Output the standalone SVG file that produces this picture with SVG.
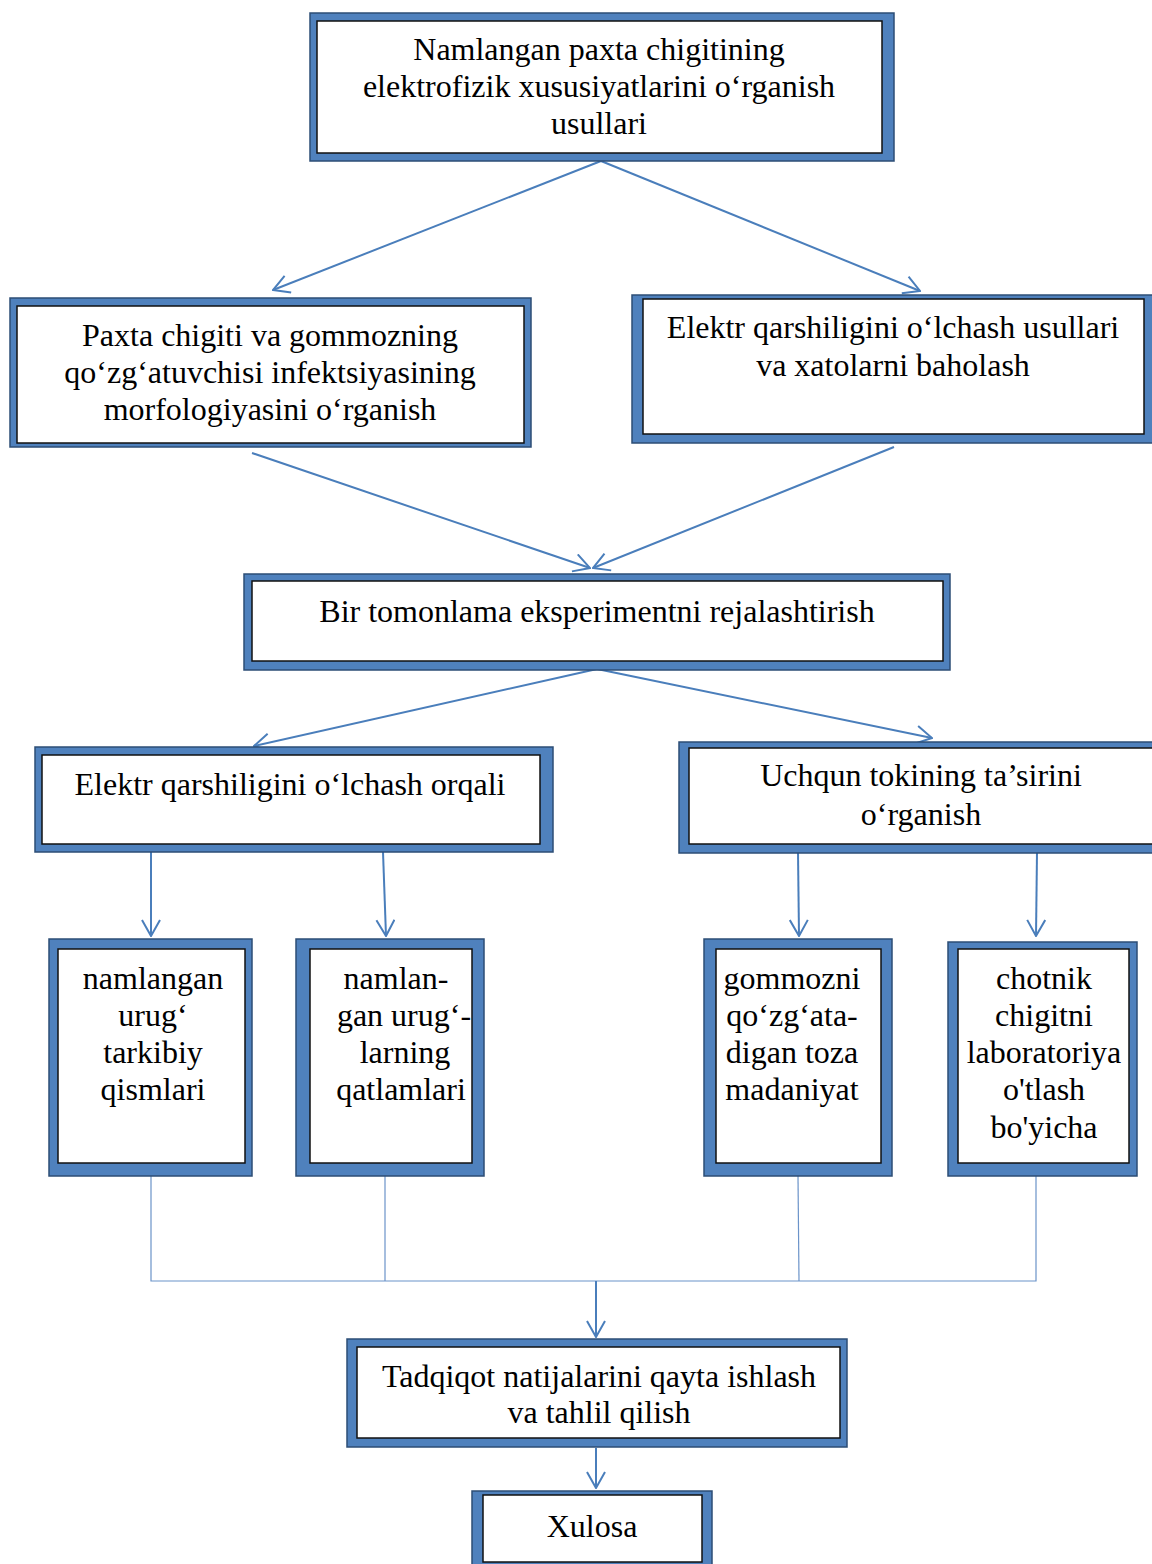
<svg xmlns="http://www.w3.org/2000/svg" width="1152" height="1564" viewBox="0 0 1152 1564">
<defs>
<style>
.o{fill:#4f81bd;stroke:#2c4d75;stroke-width:1.5}
.i{fill:#ffffff;stroke:#111111;stroke-width:1.5}
.t{font-family:"Liberation Serif","Times New Roman",serif;font-size:32px;fill:#000;text-anchor:middle}
.c{fill:none;stroke:#4a7ebb;stroke-width:2}
.th{fill:none;stroke:#6b93c9;stroke-width:1.2}
</style>
<marker id="ah" viewBox="0 0 18 20" refX="17" refY="10" markerWidth="18" markerHeight="20" markerUnits="userSpaceOnUse" orient="auto">
<path d="M1,1 L17,10 L1,19" fill="none" stroke="#4a7ebb" stroke-width="2"/>
</marker>
</defs>
<rect width="1152" height="1564" fill="#ffffff"/>

<g id="connectors">
<line class="c" x1="601" y1="161" x2="273" y2="290" marker-end="url(#ah)"/>
<line class="c" x1="601" y1="161" x2="920" y2="291" marker-end="url(#ah)"/>
<line class="c" x1="252" y1="453" x2="590" y2="568" marker-end="url(#ah)"/>
<line class="c" x1="894" y1="447" x2="593" y2="568" marker-end="url(#ah)"/>
<line class="c" x1="597" y1="669" x2="254" y2="746" marker-end="url(#ah)"/>
<line class="c" x1="597" y1="669" x2="932" y2="738" marker-end="url(#ah)"/>
<line class="c" x1="151" y1="852" x2="151" y2="936" marker-end="url(#ah)"/>
<line class="c" x1="383" y1="852" x2="386" y2="936" marker-end="url(#ah)"/>
<line class="c" x1="798" y1="852" x2="799" y2="936" marker-end="url(#ah)"/>
<line class="c" x1="1037" y1="852" x2="1036" y2="936" marker-end="url(#ah)"/>
<polyline class="th" points="151,1176 151,1281 1036,1281 1036,1176"/>
<line class="th" x1="385" y1="1176" x2="385" y2="1281"/>
<line class="th" x1="798" y1="1176" x2="799" y2="1281"/>
<line class="c" x1="596" y1="1281" x2="596" y2="1337" marker-end="url(#ah)"/>
<line class="c" x1="596" y1="1448" x2="596" y2="1488" marker-end="url(#ah)"/>
</g>

<g id="n1">
<rect class="o" x="310" y="13" width="584" height="148"/>
<rect class="i" x="317" y="21" width="565" height="132"/>
<text class="t" x="599" y="60">Namlangan paxta chigitining</text>
<text class="t" x="599" y="97">elektrofizik xususiyatlarini o‘rganish</text>
<text class="t" x="599" y="134">usullari</text>
</g>

<g id="n2">
<rect class="o" x="10" y="298" width="521" height="149"/>
<rect class="i" x="17" y="306" width="507" height="137"/>
<text class="t" x="270" y="346">Paxta chigiti va gommozning</text>
<text class="t" x="270" y="383">qo‘zg‘atuvchisi infektsiyasining</text>
<text class="t" x="270" y="420">morfologiyasini o‘rganish</text>
</g>

<g id="n3">
<rect class="o" x="632" y="295" width="530" height="148"/>
<rect class="i" x="643" y="299" width="501" height="135"/>
<text class="t" x="893" y="338">Elektr qarshiligini o‘lchash usullari</text>
<text class="t" x="893" y="376">va xatolarni baholash</text>
</g>

<g id="n4">
<rect class="o" x="244" y="574" width="706" height="96"/>
<rect class="i" x="252" y="581" width="691" height="80"/>
<text class="t" x="597" y="622">Bir tomonlama eksperimentni rejalashtirish</text>
</g>

<g id="n5">
<rect class="o" x="35" y="747" width="518" height="105"/>
<rect class="i" x="42" y="755" width="498" height="89"/>
<text class="t" x="290" y="795">Elektr qarshiligini o‘lchash orqali</text>
</g>

<g id="n6">
<rect class="o" x="679" y="742" width="490" height="111"/>
<rect class="i" x="689" y="748" width="475" height="96"/>
<text class="t" x="921" y="786">Uchqun tokining ta’sirini</text>
<text class="t" x="921" y="825">o‘rganish</text>
</g>

<g id="n7">
<rect class="o" x="49" y="939" width="203" height="237"/>
<rect class="i" x="58" y="949" width="187" height="214"/>
<text class="t" x="153" y="989">namlangan</text>
<text class="t" x="153" y="1026">urug‘</text>
<text class="t" x="153" y="1063">tarkibiy</text>
<text class="t" x="153" y="1100">qismlari</text>
</g>

<g id="n8">
<rect class="o" x="296" y="939" width="188" height="237"/>
<rect class="i" x="310" y="949" width="162" height="214"/>
<text class="t" x="396" y="989">namlan-</text>
<text class="t" x="404" y="1026">gan urug‘-</text>
<text class="t" x="405" y="1063">larning</text>
<text class="t" x="401" y="1100">qatlamlari</text>
</g>

<g id="n9">
<rect class="o" x="704" y="939" width="188" height="237"/>
<rect class="i" x="716" y="949" width="165" height="214"/>
<text class="t" x="792" y="989">gommozni</text>
<text class="t" x="792" y="1026">qo‘zg‘ata-</text>
<text class="t" x="792" y="1063">digan toza</text>
<text class="t" x="792" y="1100">madaniyat</text>
</g>

<g id="n10">
<rect class="o" x="948" y="942" width="189" height="234"/>
<rect class="i" x="958" y="949" width="171" height="214"/>
<text class="t" x="1044" y="989">chotnik</text>
<text class="t" x="1044" y="1026">chigitni</text>
<text class="t" x="1044" y="1063">laboratoriya</text>
<text class="t" x="1044" y="1100">o'tlash</text>
<text class="t" x="1044" y="1138">bo'yicha</text>
</g>

<g id="n11">
<rect class="o" x="347" y="1339" width="500" height="108"/>
<rect class="i" x="357" y="1347" width="483" height="91"/>
<text class="t" x="599" y="1387">Tadqiqot natijalarini qayta ishlash</text>
<text class="t" x="599" y="1423">va tahlil qilish</text>
</g>

<g id="n12">
<rect class="o" x="472" y="1491" width="240" height="90"/>
<rect class="i" x="483" y="1495" width="219" height="67"/>
<text class="t" x="592" y="1537">Xulosa</text>
</g>
</svg>
